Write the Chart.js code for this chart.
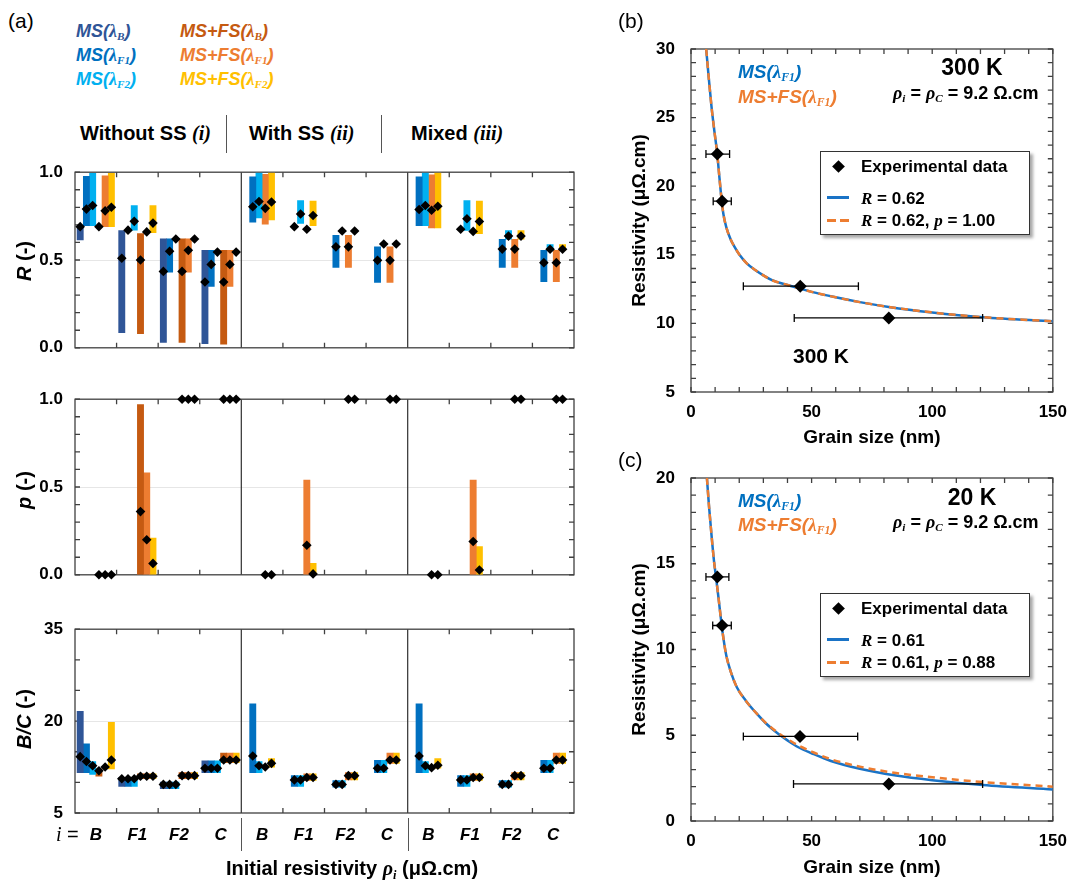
<!DOCTYPE html>
<html>
<head>
<meta charset="utf-8">
<script src="https://cdn.jsdelivr.net/npm/chart.js@4.4.1/dist/chart.umd.min.js"></script>
<style>
  body { margin: 0; background: #fff; }
  #page { position: relative; width: 1077px; height: 882px; overflow: hidden; font-family: "Liberation Sans", Arial, sans-serif; color: #000; }
  canvas { position: absolute; }
  .l, .c, .v { position: absolute; white-space: nowrap; font-weight: bold; line-height: 1; }
  .l { transform: translateY(-50%); }
  .c { transform: translate(-50%, -50%); }
  .v { transform: translate(-50%, -50%) rotate(-90deg); }
  .sr { font-family: "Liberation Serif", "DejaVu Serif", serif; font-style: italic; font-weight: bold; }
  .lam { font-family: "Liberation Serif", "DejaVu Serif", serif; font-style: italic; font-weight: bold; }
  sub { font-size: 0.62em; vertical-align: -0.3em; line-height: 0; }
  .key { font-style: italic; font-size: 18px; }
  .sep { position: absolute; width: 0; border-left: 1.5px solid #555; }
  .box { position: absolute; border: 1.5px solid #333; background: #fff; box-shadow: 3px 3px 3px rgba(0,0,0,0.35); }
  .dia { position: absolute; width: 9px; height: 9px; background: #000; transform: rotate(45deg); }
  .ln { position: absolute; width: 22px; height: 3px; background: #1A73C6; }
  .dash { position: absolute; width: 22px; height: 3px; background: repeating-linear-gradient(to right, #ED7D31 0 9px, transparent 9px 13px); }
</style>
</head>
<body>
<div id="page">
  <canvas id="rowR" width="600" height="220" style="left:0;top:150px"></canvas>
  <canvas id="rowP" width="600" height="220" style="left:0;top:377px"></canvas>
  <canvas id="rowBC" width="600" height="275" style="left:0;top:607px"></canvas>
  <canvas id="panelB" width="477" height="452" style="left:600px;top:0"></canvas>
  <canvas id="panelC" width="477" height="452" style="left:600px;top:430px"></canvas>

  <!-- panel (a) -->
  <div class="l" style="left:8px;top:20px;font-weight:normal;font-size:21px">(a)</div>
  <div class="l key" style="left:76px;top:31px;color:#2F5597">MS(<span class="lam">λ<sub>B</sub></span>)</div>
  <div class="l key" style="left:76px;top:55px;color:#0070C0">MS(<span class="lam">λ<sub>F1</sub></span>)</div>
  <div class="l key" style="left:76px;top:79px;color:#00B0F0">MS(<span class="lam">λ<sub>F2</sub></span>)</div>
  <div class="l key" style="left:180px;top:31px;color:#C55A11">MS+FS(<span class="lam">λ<sub>B</sub></span>)</div>
  <div class="l key" style="left:180px;top:55px;color:#ED7D31">MS+FS(<span class="lam">λ<sub>F1</sub></span>)</div>
  <div class="l key" style="left:180px;top:79px;color:#FFC000">MS+FS(<span class="lam">λ<sub>F2</sub></span>)</div>

  <div class="l" style="left:80px;top:133px;font-size:20px">Without SS <span class="sr">(i)</span></div>
  <div class="l" style="left:249px;top:133px;font-size:20px">With SS <span class="sr">(ii)</span></div>
  <div class="l" style="left:411px;top:133px;font-size:20px">Mixed <span class="sr">(iii)</span></div>
  <div class="sep" style="left:226px;top:115px;height:38px"></div>
  <div class="sep" style="left:381px;top:115px;height:38px"></div>

  <div class="v" style="left:24px;top:261px;font-size:20px"><i>R</i> (-)</div>
  <div class="v" style="left:24px;top:490px;font-size:20px"><i>p</i> (-)</div>
  <div class="v" style="left:24px;top:719px;font-size:20px"><i>B/C</i> (-)</div>

  <div class="l" style="left:56px;top:834px;font-size:20px;font-weight:normal"><span class="sr" style="font-weight:normal">i</span> =</div>
  <div class="sep" style="left:241px;top:818px;height:33px"></div>
  <div class="sep" style="left:408px;top:818px;height:33px"></div>
  <div class="c" style="left:352px;top:868px;font-size:20px">Initial resistivity <span class="lam">ρ<sub>i</sub></span> (μΩ.cm)</div>

  <!-- panel (b) -->
  <div class="l" style="left:618px;top:20px;font-weight:normal;font-size:21px">(b)</div>
  <div class="l key" style="left:738px;top:71px;color:#0070C0;font-size:19px">MS(<span class="lam">λ<sub>F1</sub></span>)</div>
  <div class="l key" style="left:738px;top:96px;color:#ED7D31;font-size:19px">MS+FS(<span class="lam">λ<sub>F1</sub></span>)</div>
  <div class="c" style="left:972px;top:67px;font-size:23px">300 K</div>
  <div class="l" style="left:893px;top:93px;font-size:18px"><span class="lam">ρ<sub>i</sub></span> = <span class="lam">ρ<sub>C</sub></span> = 9.2 Ω.cm</div>
  <div class="l" style="left:793px;top:355px;font-size:21px">300 K</div>
  <div class="box" style="left:820px;top:151px;width:208px;height:82px">
    <div class="dia" style="left:13px;top:10px"></div>
    <div class="l" style="left:40px;top:14px;font-size:17px">Experimental data</div>
    <div class="ln" style="left:6px;top:44px"></div>
    <div class="l" style="left:40px;top:46px;font-size:17px"><span class="sr">R</span> = 0.62</div>
    <div class="dash" style="left:6px;top:67px"></div>
    <div class="l" style="left:40px;top:68px;font-size:17px"><span class="sr">R</span> = 0.62, <span class="sr">p</span> = 1.00</div>
  </div>

  <!-- panel (c) -->
  <div class="l" style="left:618px;top:459px;font-weight:normal;font-size:21px">(c)</div>
  <div class="l key" style="left:738px;top:500px;color:#0070C0;font-size:19px">MS(<span class="lam">λ<sub>F1</sub></span>)</div>
  <div class="l key" style="left:738px;top:524px;color:#ED7D31;font-size:19px">MS+FS(<span class="lam">λ<sub>F1</sub></span>)</div>
  <div class="c" style="left:972px;top:497px;font-size:23px">20 K</div>
  <div class="l" style="left:893px;top:522px;font-size:18px"><span class="lam">ρ<sub>i</sub></span> = <span class="lam">ρ<sub>C</sub></span> = 9.2 Ω.cm</div>
  <div class="box" style="left:820px;top:593px;width:208px;height:82px">
    <div class="dia" style="left:13px;top:10px"></div>
    <div class="l" style="left:40px;top:14px;font-size:17px">Experimental data</div>
    <div class="ln" style="left:6px;top:44px"></div>
    <div class="l" style="left:40px;top:46px;font-size:17px"><span class="sr">R</span> = 0.61</div>
    <div class="dash" style="left:6px;top:67px"></div>
    <div class="l" style="left:40px;top:68px;font-size:17px"><span class="sr">R</span> = 0.61, <span class="sr">p</span> = 0.88</div>
  </div>
</div>

<script>
// categories along panel (a): 3 blocks (Without SS, With SS, Mixed) x 4 initial resistivities
const categories = ['B', 'F1', 'F2', 'C', 'B', 'F1', 'F2', 'C', 'B', 'F1', 'F2', 'C'];
const seriesNames = ['MS(λB)', 'MS(λF1)', 'MS(λF2)', 'MS+FS(λB)', 'MS+FS(λF1)', 'MS+FS(λF2)'];
const seriesColors = ['#2F5597', '#0070C0', '#00B0F0', '#C55A11', '#ED7D31', '#FFC000'];

const N = null;
// R (-): bar range and diamond per series and category
const rLow = [
  [0.615, 0.086, 0.03, 0.023, N, N, N, N, N, N, N, N],
  [0.695, N, 0.43, 0.35, 0.716, N, 0.458, 0.373, 0.695, N, 0.458, 0.376],
  [0.695, 0.67, N, N, 0.74, 0.709, N, N, 0.695, 0.668, 0.618, 0.555],
  [N, 0.08, 0.03, 0.02, N, N, N, N, N, N, N, N],
  [0.69, N, 0.43, 0.35, 0.704, N, 0.458, 0.373, 0.682, N, 0.458, 0.376],
  [0.69, 0.655, N, N, 0.728, 0.695, N, N, 0.682, 0.65, 0.618, 0.555]
];
const rHigh = [
  [0.695, 0.668, 0.62, 0.555, N, N, N, N, N, N, N, N],
  [0.977, N, 0.62, 0.555, 0.973, N, 0.64, 0.575, 0.973, N, 0.618, 0.555],
  [0.994, 0.81, N, N, 0.995, 0.838, N, N, 0.995, 0.838, 0.668, 0.588],
  [N, 0.65, 0.62, 0.555, N, N, N, N, N, N, N, N],
  [0.98, N, 0.62, 0.555, 0.988, N, 0.64, 0.575, 0.985, N, 0.618, 0.555],
  [0.994, 0.81, N, N, 0.995, 0.835, N, N, 0.995, 0.835, 0.668, 0.588]
];
const rMark = [
  [0.69, 0.51, 0.435, 0.375, N, N, N, N, N, N, N, N],
  [0.79, 0.67, 0.55, 0.475, 0.803, 0.69, 0.575, 0.498, 0.788, 0.675, 0.562, 0.485],
  [0.81, 0.72, 0.62, 0.545, 0.833, 0.762, 0.665, 0.591, 0.81, 0.735, 0.636, 0.561],
  [0.69, 0.50, 0.435, 0.375, N, N, N, N, N, N, N, N],
  [0.78, 0.66, 0.555, 0.475, 0.794, 0.675, 0.575, 0.498, 0.783, 0.663, 0.562, 0.485],
  [0.80, 0.71, 0.62, 0.545, 0.83, 0.753, 0.665, 0.591, 0.806, 0.719, 0.636, 0.561]
];

// p (-): only the MS+FS series carry a specularity value
const pLow = [
  [N, N, N, N, N, N, N, N, N, N, N, N],
  [N, N, N, N, N, N, N, N, N, N, N, N],
  [N, N, N, N, N, N, N, N, N, N, N, N],
  [N, 0, N, N, N, N, N, N, N, N, N, N],
  [N, 0, N, N, N, 0, N, N, N, 0, N, N],
  [N, 0, N, N, N, 0, N, N, N, 0, N, N]
];
const pHigh = [
  [N, N, N, N, N, N, N, N, N, N, N, N],
  [N, N, N, N, N, N, N, N, N, N, N, N],
  [N, N, N, N, N, N, N, N, N, N, N, N],
  [N, 0.97, N, N, N, N, N, N, N, N, N, N],
  [N, 0.58, N, N, N, 0.54, N, N, N, 0.54, N, N],
  [N, 0.209, N, N, N, 0.065, N, N, N, 0.16, N, N]
];
const pMark = [
  [N, N, N, N, N, N, N, N, N, N, N, N],
  [N, N, N, N, N, N, N, N, N, N, N, N],
  [N, N, N, N, N, N, N, N, N, N, N, N],
  [0, 0.36, 1, 1, N, N, N, N, N, N, N, N],
  [0, 0.20, 1, 1, 0, 0.168, 1, 1, 0, 0.19, 1, 1],
  [0, 0.065, 1, 1, 0, 0.005, 1, 1, 0, 0.027, 1, 1]
];

// B/C (-)
const bcLow = [
  [11.6, 9.35, 8.98, 11.6, N, N, N, N, N, N, N, N],
  [11.6, 9.35, 8.98, 11.6, 11.6, 9.35, 9.2, 11.6, 11.6, 9.35, 9.2, 11.6],
  [11.3, 9.35, 8.98, 11.6, 11.6, 9.35, 9.2, 11.6, 11.6, 9.35, 9.2, 11.6],
  [11.0, 10.6, 10.6, 13.2, N, N, N, N, N, N, N, N],
  [N, 10.6, 10.6, 13.2, N, 10.3, 10.4, 13.1, N, 10.3, 10.4, 13.1],
  [12.2, 10.6, 10.6, 13.2, 12.5, 10.3, 10.4, 13.1, 12.3, 10.3, 10.4, 13.1]
];
const bcHigh = [
  [21.6, 10.8, 10.04, 13.5, N, N, N, N, N, N, N, N],
  [16.3, 10.8, 10.04, 13.5, 22.8, 11.1, 10.3, 13.6, 22.8, 11.1, 10.3, 13.6],
  [13.4, 10.8, 10.04, 13.5, 13.4, 11.1, 10.3, 13.6, 13.4, 11.1, 10.3, 13.6],
  [12.2, 11.4, 11.6, 14.8, N, N, N, N, N, N, N, N],
  [N, 11.4, 11.6, 14.8, N, 11.4, 11.6, 14.8, N, 11.4, 11.6, 14.8],
  [19.8, 11.4, 11.6, 14.8, 13.9, 11.4, 11.6, 14.8, 13.9, 11.4, 11.6, 14.8]
];
const bcMark = [
  [14.2, 10.6, 9.67, 12.3, N, N, N, N, N, N, N, N],
  [13.4, 10.6, 9.67, 12.3, 14.3, 10.4, 9.67, 12.3, 14.3, 10.4, 9.67, 12.3],
  [12.7, 10.6, 9.67, 12.3, 12.7, 10.4, 9.67, 12.3, 12.7, 10.4, 9.67, 12.3],
  [11.9, 11.0, 11.1, 13.65, N, N, N, N, N, N, N, N],
  [12.5, 11.0, 11.1, 13.65, 12.5, 10.8, 11.1, 13.65, 12.4, 10.8, 11.1, 13.65],
  [13.65, 11.0, 11.1, 13.65, 13.1, 10.8, 11.1, 13.65, 12.8, 10.8, 11.1, 13.65]
];

// panel (b), 300 K
const grainB = [10.9, 12.9, 45.3, 82.0];
const rhoB = [22.34, 18.91, 12.71, 10.4];
const grainLowB = [6.2, 9.2, 21.7, 42.8];
const grainHighB = [16.0, 16.7, 69.4, 120.9];
const curveXB = [6.3, 7.3, 8.5, 9.7, 10.85, 11.8, 12.75, 13.5, 14.65, 16.5, 18, 20.1, 23, 26.9, 30, 33.6, 40, 45, 50, 60, 70, 82, 100, 121, 150];
const curveMSB = [30, 28.0, 25.8, 24.0, 22.4, 20.6, 18.9, 17.9, 17.0, 16.1, 15.6, 15.0, 14.4, 13.85, 13.5, 13.15, 12.8, 12.55, 12.3, 11.9, 11.55, 11.2, 10.8, 10.45, 10.15];
const curveMSFSB = [30, 28.0, 25.8, 24.0, 22.4, 20.6, 18.9, 17.9, 17.0, 16.1, 15.6, 15.0, 14.4, 13.85, 13.5, 13.15, 12.8, 12.55, 12.3, 11.9, 11.55, 11.2, 10.8, 10.45, 10.15];

// panel (c), 20 K
const grainC = [10.9, 12.9, 45.2, 82.0];
const rhoC = [14.23, 11.4, 4.93, 2.16];
const grainLowC = [6.2, 9.0, 21.7, 42.5];
const grainHighC = [15.7, 16.7, 69.1, 120.9];
const curveXC = [6.6, 7.5, 8.55, 9.5, 10.3, 11.5, 12.6, 13.6, 14.7, 16.5, 19, 22.8, 27, 31, 36, 40, 44.5, 50, 58, 70, 85, 100, 121, 150];
const curveMSC = [20, 18.3, 16.6, 15.2, 14.3, 12.9, 11.55, 10.5, 9.6, 8.7, 7.8, 7.0, 6.3, 5.7, 5.1, 4.7, 4.3, 3.95, 3.5, 3.05, 2.65, 2.38, 2.1, 1.84];
const curveMSFSC = [20, 18.3, 16.6, 15.2, 14.3, 12.9, 11.55, 10.5, 9.6, 8.7, 7.8, 7.0, 6.3, 5.72, 5.15, 4.78, 4.4, 4.05, 3.6, 3.17, 2.8, 2.55, 2.27, 2.0];

Chart.defaults.font.family = "'Liberation Sans', Arial, sans-serif";
Chart.defaults.color = '#000';

const tickFont = { size: 17, weight: 'bold' };
const titleFont = { size: 19, weight: 'bold' };

// frame + inward ticks (Excel style), plus section dividers
const frameTicks = {
  id: 'frameTicks',
  beforeDatasetsDraw(chart, args, opts) {
    const { ctx, chartArea: a, scales: { x, y } } = chart;
    const len = opts.len || 5;
    ctx.save();
    ctx.strokeStyle = '#404040';
    ctx.lineWidth = 1.3;
    ctx.beginPath();
    const xs = opts.xMarks || x.ticks.map(t => t.value);
    xs.forEach(v => {
      const px = x.getPixelForValue(v);
      ctx.moveTo(px, a.bottom); ctx.lineTo(px, a.bottom - len);
      ctx.moveTo(px, a.top); ctx.lineTo(px, a.top + len);
    });
    y.ticks.forEach(t => {
      const py = y.getPixelForValue(t.value);
      ctx.moveTo(a.left, py); ctx.lineTo(a.left + len, py);
      ctx.moveTo(a.right, py); ctx.lineTo(a.right - len, py);
    });
    (opts.dividers || []).forEach(v => {
      const px = x.getPixelForValue(v);
      ctx.moveTo(px, a.top); ctx.lineTo(px, a.bottom);
    });
    ctx.stroke();
    ctx.strokeRect(a.left, a.top, a.width, a.height);
    ctx.restore();
  }
};

// place each series in its slot inside a category (6 slots in block i, 4 in blocks ii/iii)
const slotWidth = 0.15;
function slotOffset(cat, k) {
  const block = Math.floor(cat / 4);
  const slot = block === 0 ? k : [0, 0, 1, 0, 2, 3][k];
  const n = block === 0 ? 6 : 4;
  return (slot - (n - 1) / 2) * slotWidth;
}

const boundaries = categories.map((c, i) => i + 0.5).filter(v => v !== 3.5 && v !== 7.5 && v !== 11.5);
const near = (a, b) => Math.abs(a - b) < 1e-6;

function buildRow(id, low, high, mark, yMin, yMax, yStep, yLabels, yGrid, fmt, showX, padBottom, xHeight) {
  const datasets = [];
  seriesNames.forEach((name, k) => {
    const bars = [], marks = [];
    categories.forEach((c, i) => {
      if (low[k][i] !== null) bars.push({ x: i + slotOffset(i, k), y: [low[k][i], high[k][i]] });
      if (mark[k][i] !== null) marks.push({ x: i + slotOffset(i, k), y: mark[k][i] });
    });
    datasets.push({
      type: 'bar', label: name, data: bars, backgroundColor: seriesColors[k],
      grouped: false, categoryPercentage: 1, barPercentage: 1, borderWidth: 0, order: 2
    });
    datasets.push({
      type: 'scatter', label: name, data: marks, pointStyle: 'rectRot', pointRadius: 4.8,
      pointBackgroundColor: '#000', pointBorderColor: '#000', pointBorderWidth: 0, clip: false, order: 1
    });
  });

  new Chart(document.getElementById(id), {
    type: 'bar',
    data: { datasets },
    plugins: [frameTicks],
    options: {
      responsive: false,
      animation: false,
      layout: { padding: { top: 18, right: 26, left: 0, bottom: padBottom } },
      plugins: {
        legend: { display: false },
        tooltip: { enabled: false },
        frameTicks: { xMarks: boundaries, dividers: [3.5, 7.5], len: 5 }
      },
      scales: {
        x: {
          type: 'linear', min: -0.5, max: 11.5, offset: false, display: showX,
          afterBuildTicks: s => { s.ticks = categories.map((c, i) => ({ value: i })); },
          afterFit: s => { if (xHeight) s.height = xHeight; },
          grid: { display: false, drawTicks: false, offset: false },
          border: { display: false },
          ticks: {
            autoSkip: false, maxRotation: 0, padding: 12,
            font: { size: 17, weight: 'bold', style: 'italic' },
            callback: v => categories[Math.round(v)]
          }
        },
        y: {
          min: yMin, max: yMax,
          afterFit: s => { s.width = 75; },
          grid: { drawTicks: false, color: c => near(c.tick.value, yGrid) ? '#e6e6e6' : 'rgba(0,0,0,0)' },
          border: { display: false },
          ticks: {
            stepSize: yStep, autoSkip: false, padding: 12, font: tickFont,
            callback: v => yLabels.some(l => near(l, v)) ? fmt(v) : ''
          }
        }
      }
    }
  });
}

buildRow('rowR', rLow, rHigh, rMark, 0, 1, 0.1, [0, 0.5, 1], 0.5, v => v.toFixed(1), false, 16, 0);
buildRow('rowP', pLow, pHigh, pMark, 0, 1, 0.1, [0, 0.5, 1], 0.5, v => v.toFixed(1), false, 14, 0);
buildRow('rowBC', bcLow, bcHigh, bcMark, 5, 35, 5, [5, 20, 35], 20, v => String(v), true, 0, 69);

function buildPanel(id, gx, rho, lo, hi, cx, cMS, cMSFS, yMin, yMax, padTop, xHeight) {
  const datasets = [{
    type: 'scatter', label: 'Experimental data', data: gx.map((x, i) => ({ x, y: rho[i] })),
    pointStyle: 'rectRot', pointRadius: 6.5, pointBackgroundColor: '#000', pointBorderWidth: 0, clip: false, order: 0
  }];
  gx.forEach((x, i) => {
    datasets.push({
      type: 'line', showLine: true, data: [{ x: lo[i], y: rho[i] }, { x: hi[i], y: rho[i] }],
      borderColor: '#000', borderWidth: 1.3, pointStyle: 'line', pointRotation: 90, pointRadius: 4,
      pointBorderColor: '#000', pointBorderWidth: 1.3, order: 1
    });
  });
  datasets.push({
    type: 'line', showLine: true, label: 'MS+FS', data: cx.map((x, i) => ({ x, y: cMSFS[i] })),
    borderColor: '#ED7D31', borderWidth: 2.5, borderDash: [7, 5], pointRadius: 0,
    cubicInterpolationMode: 'monotone', order: 2
  });
  datasets.push({
    type: 'line', showLine: true, label: 'MS', data: cx.map((x, i) => ({ x, y: cMS[i] })),
    borderColor: '#1A73C6', borderWidth: 2.5, pointRadius: 0,
    cubicInterpolationMode: 'monotone', order: 3
  });

  new Chart(document.getElementById(id), {
    type: 'scatter',
    data: { datasets },
    plugins: [frameTicks],
    options: {
      responsive: false,
      animation: false,
      layout: { padding: { top: padTop, right: 18, left: 0, bottom: 0 } },
      plugins: { legend: { display: false }, tooltip: { enabled: false }, frameTicks: { len: 5 } },
      scales: {
        x: {
          type: 'linear', min: 0, max: 150,
          afterFit: s => { s.height = xHeight; },
          grid: { display: false, drawTicks: false },
          border: { display: false },
          ticks: { stepSize: 10, autoSkip: false, maxRotation: 0, padding: 10, font: tickFont,
                   callback: v => v % 50 === 0 ? v : '' },
          title: { display: true, text: 'Grain size (nm)', font: titleFont, padding: { top: 0, bottom: 3 } }
        },
        y: {
          type: 'linear', min: yMin, max: yMax,
          afterFit: s => { s.width = 91; },
          grid: { display: false, drawTicks: false },
          border: { display: false },
          ticks: { stepSize: 1, autoSkip: false, padding: 16, font: tickFont,
                   callback: v => v % 5 === 0 ? v : '' },
          title: { display: true, text: 'Resistivity (μΩ.cm)', font: titleFont, padding: { top: 28, bottom: 0 } }
        }
      }
    }
  });
}

buildPanel('panelB', grainB, rhoB, grainLowB, grainHighB, curveXB, curveMSB, curveMSFSB, 5, 30, 49, 60);
buildPanel('panelC', grainC, rhoC, grainLowC, grainHighC, curveXC, curveMSC, curveMSFSC, 0, 20, 48, 61);
</script>
</body>
</html>
